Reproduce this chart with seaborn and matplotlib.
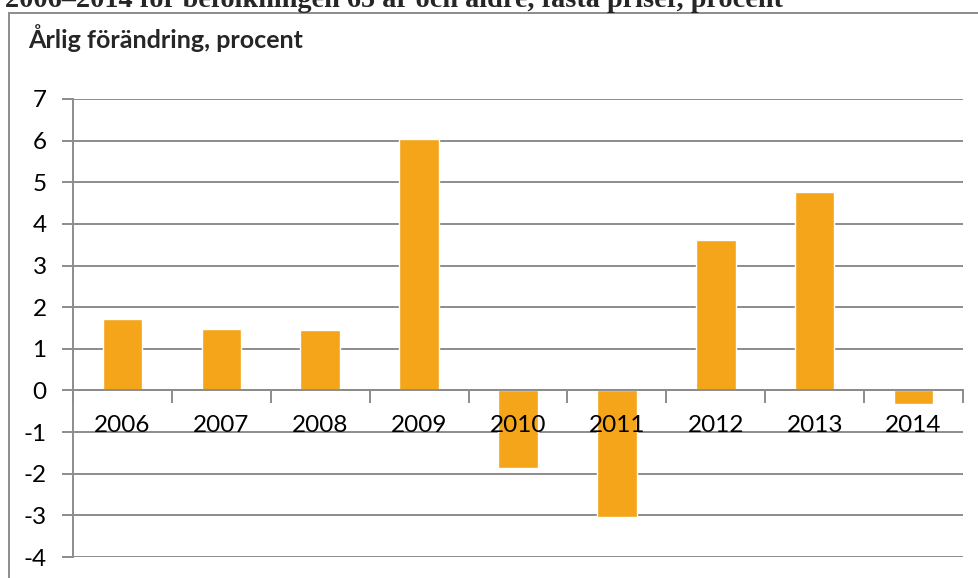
import numpy as np
import matplotlib
matplotlib.use('Agg')
import matplotlib.pyplot as plt
import matplotlib.patches as mpatches
from matplotlib.ticker import FixedLocator
import seaborn as sns
import pandas as pd

#%% Data
years = ['2006', '2007', '2008', '2009', '2010', '2011', '2012', '2013', '2014']
change = [1.72, 1.48, 1.45, 6.03, -1.86, -3.05, 3.61, 4.77, -0.33]
yticks = list(range(-4, 8))
heading = '2006\u20132014 för befolkningen 65 år och äldre, fasta priser, procent'
axis_title = 'Årlig förändring, procent'

bar_color = '#F4A519'
grid_color = '#8C8C8C'

sns.set_theme(style='white')
plt.rcParams['font.family'] = ['Lato', 'DejaVu Sans']

df = pd.DataFrame({'year': years, 'change': change})

fig = plt.figure(figsize=(9.79, 5.78), dpi=100)
ax = fig.add_axes([73/979, 1-557/578, (963-73)/979, (557-99)/578])

#%% Bars over grid, axis labels over bars
sns.barplot(data=df, x='year', y='change', color=bar_color, width=0.4,
            saturation=1, ax=ax, zorder=2)
ax.set_axisbelow(False)
ax.hlines(yticks, -0.5, len(years)-0.5, color=grid_color, linewidth=1.4,
          zorder=0.5)

ax.set_xlim(-0.5, len(years)-0.5)
ax.set_ylim(-4, 7)
ax.set_yticks(yticks)
ax.set_yticklabels([str(t) for t in yticks])
ax.set_xlabel('')
ax.set_ylabel('')

for s in ['top', 'right']:
    ax.spines[s].set_visible(False)
ax.spines['left'].set_color(grid_color)
ax.spines['left'].set_linewidth(1.4)
ax.spines['bottom'].set_position(('data', 0))
ax.spines['bottom'].set_color(grid_color)
ax.spines['bottom'].set_linewidth(1.4)

ax.tick_params(axis='y', left=True, length=8, width=1.4, color=grid_color,
               labelsize=17.5, pad=11, labelcolor='black')
ax.tick_params(axis='x', which='major', bottom=False, length=0,
               labelsize=17.5, pad=18, labelcolor='black')
ax.xaxis.set_minor_locator(FixedLocator(np.arange(-0.5, len(years), 1.0)))
ax.tick_params(axis='x', which='minor', bottom=True, length=9, width=1.4,
               color=grid_color, direction='out')

# outer chart frame
frame = mpatches.Rectangle((9/979, -0.05), 1.2, 1.05 - 13/578,
                           transform=fig.transFigure, fill=False,
                           edgecolor=grid_color, linewidth=1.4)
fig.patches.append(frame)

fig.text(28/979, 1-48/578, axis_title, fontsize=18, fontweight='bold',
         va='baseline', ha='left')
fig.text(5/979, 1-7/578, heading, fontsize=20.3, fontweight='bold',
         family='Liberation Serif', va='baseline', ha='left')

fig.savefig('out.png', dpi=100)
